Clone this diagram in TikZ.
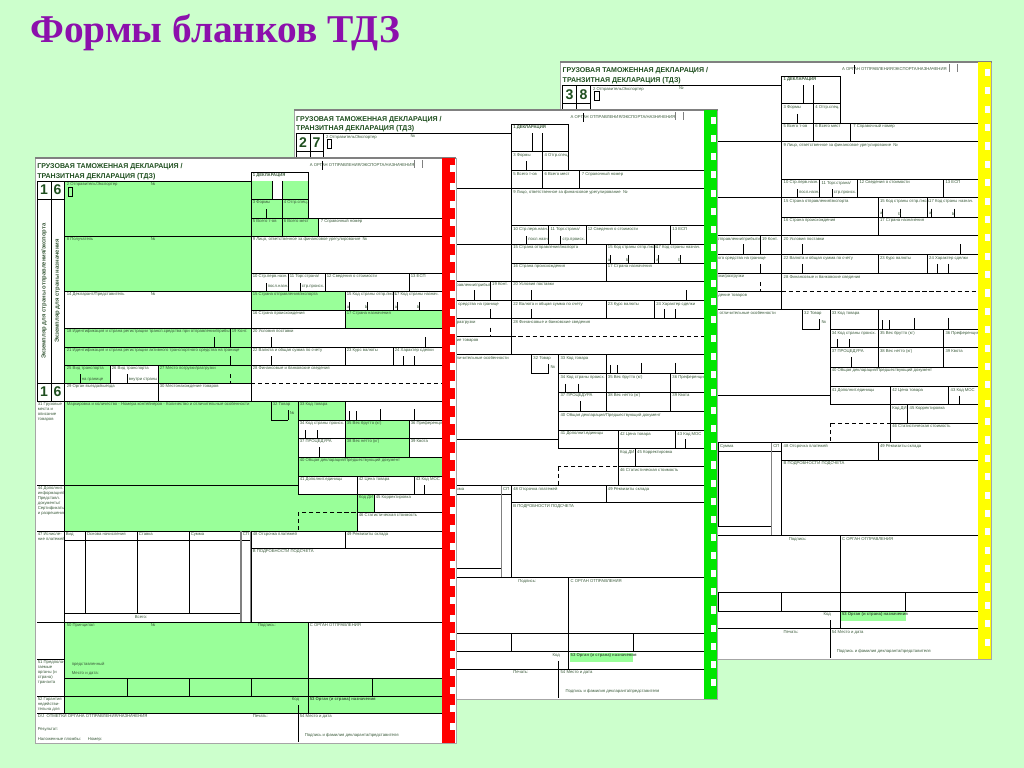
\documentclass[tikz,border=0pt]{standalone}
\usepackage{fontspec}
\setmainfont{Liberation Serif}
\setsansfont{Liberation Sans}
\usetikzlibrary{calc}
\definecolor{TdzBack}{HTML}{CCFFCC}
\definecolor{TdzGreen}{HTML}{99FF99}
\definecolor{TdzTitle}{HTML}{8C10AC}
\definecolor{TdzInk}{HTML}{1F4F1F}
\definecolor{TdzLabel}{HTML}{3A5A3A}
\definecolor{TdzRed}{HTML}{FF0000}
\definecolor{TdzLime}{HTML}{00E600}
\definecolor{TdzYellow}{HTML}{FFFF00}

\tikzset{
  lbl/.style={font=\sffamily\fontsize{3}{3.5}\selectfont, text=TdzLabel, anchor=north west, inner sep=0.4pt, align=left},
  lblb/.style={lbl, font=\sffamily\bfseries\fontsize{3}{3.5}\selectfont},
  hdr/.style={font=\sffamily\bfseries\fontsize{5}{6}\selectfont, text=TdzInk, anchor=base west, inner sep=0pt},
  num/.style={font=\sffamily\bfseries\fontsize{10}{12}\selectfont, text=TdzInk, inner sep=0pt},
  vert/.style={font=\sffamily\bfseries\fontsize{4.2}{5}\selectfont, text=TdzLabel, rotate=90, inner sep=0pt},
  titl/.style={font=\bfseries\fontsize{28}{32}\selectfont, text=TdzTitle, inner sep=0pt},
  box/.style={draw=black, line width=0.55pt},
  sheet/.style={draw=gray!70, fill=white, line width=0.6pt},
}

% один бланк ТДЗ: #1 префикс имен, #2 #3 номер листа, #4 заливка, #5 полоса
\newcommand{\tdzform}[5]{%
  % лист
  \draw[sheet] (35,158) rectangle (456,743);
  \draw[gray, line width=1.2pt] (35,158) -- (456,158);
  % шапка
  \node[hdr] (#1h1) at (37,169) {ГРУЗОВАЯ ТАМОЖЕННАЯ ДЕКЛАРАЦИЯ /};
  \node[hdr] (#1h2) at (37,178.5) {ТРАНЗИТНАЯ ДЕКЛАРАЦИЯ (ТДЗ)};
  \draw[box] (37,181) -- (251,181);
  % левая колонка
  \draw[box] (37,181) rectangle (51,199) (51,181) rectangle (64,199);
  \node[num] (#1n1) at (44,190) {#2};
  \node[num] (#1n2) at (57.5,190) {#3};
  \draw[box] (37,199) rectangle (51,383) (51,199) rectangle (64,383);
  \node[vert] (#1v1) at (44,291) {Экземпляр для страны отправления/экспорта};
  \node[vert] (#1v2) at (57.5,291) {Экземпляр для страны назначения};
  \draw[box] (37,383) rectangle (51,401) (51,383) rectangle (64,401);
  \node[num] (#1n3) at (44,392) {#2};
  \node[num] (#1n4) at (57.5,392) {#3};
  % графа 1 и A
  \fill[#4] (251,181) rectangle (272,199) (282,181) rectangle (308,199);
  \draw[box] (251,172) rectangle (308,199);
  \draw[box] (272,181) -- (272,199) (282,181) -- (282,199);
  \node[lblb] (#1b1) at (252,173) {1 ДЕКЛАРАЦИЯ};
  \draw[box] (308,172) -- (308,218);
  \node[lbl] (#1bA) at (309,163) {A ОРГАН ОТПРАВЛЕНИЯ/ЭКСПОРТА/НАЗНАЧЕНИЯ};
  \draw[box] (322,161) -- (322,170);
  \draw[gray, line width=0.5pt] (414,160) -- (414,168) (422,160) -- (422,168);
  % графы 2-7
  \draw[box, fill=#4] (64,181) rectangle (251,236);
  \node[lbl] (#1b2) at (66,182) {2 Отправитель/Экспортер};
  \node[lbl] (#1b2n) at (150,182) {№};
  \draw[box, line width=0.4pt] (68,187) rectangle (72.5,196);
  \draw[box, fill=#4] (251,199) rectangle (282,218);
  \node[lbl] (#1b3) at (252,200) {3 Формы};
  \draw[box] (266,209) -- (266,218);
  \draw[box, fill=#4] (282,199) rectangle (308,218);
  \node[lbl] (#1b4) at (283,200) {4 Отгр.спец.};
  \draw[box, fill=#4] (251,218) rectangle (282,236);
  \node[lbl] (#1b5) at (252,219) {5 Всего т-ов};
  \draw[box, fill=#4] (282,218) rectangle (318,236);
  \node[lbl] (#1b6) at (283,219) {6 Всего мест};
  \draw[box] (318,218) rectangle (443,236);
  \node[lbl] (#1b7) at (320,219) {7 Справочный номер};
  % графы 8-13
  \draw[box, fill=#4] (64,236) rectangle (251,291);
  \node[lbl] (#1b8) at (66,237) {8 Получатель};
  \node[lbl] (#1b8n) at (150,237) {№};
  \draw[box] (251,236) rectangle (443,273);
  \node[lbl] (#1b9) at (252,237) {9 Лицо, ответственное за финансовое урегулирование \ №};
  \draw[box] (251,273) rectangle (288,291);
  \node[lbl] (#1b10) at (252,274) {10 Стр.перв.назн.};
  \node[lbl] (#1b10a) at (267,284) {посл.назн.};
  \draw[box] (266,283) -- (266,291);
  \draw[box] (288,273) rectangle (325,291);
  \node[lbl] (#1b11) at (289,274) {11 Торг.страна/};
  \node[lbl] (#1b11a) at (301,284) {стр.происх.};
  \draw[box] (300,283) -- (300,291);
  \draw[box] (325,273) rectangle (409,291);
  \node[lbl] (#1b12) at (326,274) {12 Сведения о стоимости};
  \draw[box] (409,273) rectangle (443,291);
  \node[lbl] (#1b13) at (410,274) {13 ЕСП};
  % графы 14-17
  \draw[box] (64,291) rectangle (251,328);
  \node[lbl] (#1b14) at (66,292) {14 Декларант/Представитель};
  \node[lbl] (#1b14n) at (150,292) {№};
  \draw[box, fill=#4] (251,291) rectangle (345,310);
  \node[lbl] (#1b15) at (252,292) {15 Страна отправления/экспорта};
  \draw[box] (345,291) rectangle (393,310);
  \node[lbl] (#1b15a) at (346,292) {15 Код страны отпр./эксп.};
  \draw[box] (349,302) -- (349,310) (367,302) -- (367,310);
  \node[lbl] (#1b15x) at (346,305) {a};
  \node[lbl] (#1b15y) at (364,305) {b};
  \draw[box] (393,291) rectangle (443,310);
  \node[lbl] (#1b17a) at (394,292) {17 Код страны назнач.};
  \draw[box] (397,302) -- (397,310) (419,302) -- (419,310);
  \node[lbl] (#1b17x) at (394,305) {a};
  \node[lbl] (#1b17y) at (416,305) {b};
  \draw[box] (251,310) rectangle (345,328);
  \node[lbl] (#1b16) at (252,311) {16 Страна происхождения};
  \draw[box, fill=#4] (345,310) rectangle (443,328);
  \node[lbl] (#1b17) at (346,311) {17 Страна назначения};
  % графы 18-24
  \draw[box, fill=#4] (64,328) rectangle (230,347);
  \node[lbl] (#1b18) at (66,329) {18 Идентификация и страна регистрации трансп.средства при отправлении/прибытии};
  \draw[box] (214,337) -- (214,347);
  \draw[box, fill=#4] (230,328) rectangle (251,347);
  \node[lbl] (#1b19) at (231,329) {19 Конт.};
  \draw[box] (251,328) rectangle (443,347);
  \node[lbl] (#1b20) at (252,329) {20 Условия поставки};
  \draw[box] (271,337) -- (271,347) (425,337) -- (425,347);
  \draw[box, fill=#4] (64,347) rectangle (251,365);
  \node[lbl] (#1b21) at (66,348) {21 Идентификация и страна регистрации активного транспортного средства на границе};
  \draw[box] (230,356) -- (230,365);
  \draw[box] (251,347) rectangle (345,365);
  \node[lbl] (#1b22) at (252,348) {22 Валюта и общая сумма по счету};
  \draw[box] (271,356) -- (271,365);
  \draw[box] (345,347) rectangle (393,365);
  \node[lbl] (#1b23) at (346,348) {23 Курс валюты};
  \draw[box] (393,347) rectangle (443,365);
  \node[lbl] (#1b24) at (394,348) {24 Характер сделки};
  \draw[box] (403,356) -- (403,365) (414,356) -- (414,365);
  % графы 25-30
  \draw[box, fill=#4] (64,365) rectangle (110,383);
  \node[lbl] (#1b25) at (66,366) {25 Вид транспорта};
  \node[lbl] (#1b25a) at (81,377) {на границе};
  \draw[box] (80,374) -- (80,383);
  \draw[box] (110,365) rectangle (158,383);
  \node[lbl] (#1b26) at (111,366) {26 Вид транспорта};
  \node[lbl] (#1b26a) at (128,377) {внутри страны};
  \draw[box] (127,374) -- (127,383);
  \draw[box, fill=#4] (158,365) rectangle (251,383);
  \node[lbl] (#1b27) at (159,366) {27 Место погрузки/разгрузки};
  \draw[box, densely dashed] (230,374) -- (230,383);
  \draw[box] (251,365) rectangle (443,401);
  \node[lbl] (#1b28) at (252,366) {28 Финансовые и банковские сведения};
  \draw[box, densely dashed] (251,383) -- (443,383);
  \draw[box] (64,383) rectangle (158,401);
  \node[lbl] (#1b29) at (66,384) {29 Орган въезда/выезда};
  \draw[box] (158,383) rectangle (251,401);
  \node[lbl] (#1b30) at (159,384) {30 Местонахождение товаров};
  % левая колонка ниже
  \draw[box] (64,401) -- (64,713);
  \draw[box] (37,485) -- (64,485) (37,531) -- (64,531) (37,622) -- (64,622)
    (37,659) -- (64,659) (37,696) -- (64,696);
  \node[lbl] (#1b31) at (37,402) {31 Грузовые\\места и\\описание\\товаров};
  \node[lbl] (#1b44) at (37,486) {44 Дополнит.\\информация/\\Представл.\\документы/\\Сертификаты\\и разрешения};
  \node[lbl] (#1b47) at (37,532) {47 Исчисле-\\ние платежей};
  \node[lbl] (#1b51) at (37,660) {51 Предпола-\\гаемые\\органы (и\\страна)\\транзита};
  \node[lbl] (#1b52) at (37,697) {52 Гарантия\\недействи-\\тельна для};
  % графа 31 и 32-43
  \draw[box, fill=#4] (64,401) rectangle (298,485);
  \node[lbl] (#1b31t) at (66,402) {Маркировка и количество - Номера контейнеров - Количество и отличительные особенности};
  \draw[box] (271,401) -- (271,420) -- (288,420) (288,410) -- (288,420);
  \node[lbl] (#1b32) at (272,402) {32 Товар};
  \node[lbl] (#1b32n) at (289,411) {№};
  \draw[box, fill=#4] (298,401) rectangle (345,420);
  \node[lbl] (#1b33) at (299,402) {33 Код товара};
  \draw[box] (345,401) rectangle (443,420);
  \draw[box] (349,411) -- (349,420) (356,411) -- (356,420) (380,409) -- (380,420) (414,409) -- (414,420);
  \draw[box] (298,420) rectangle (345,438);
  \node[lbl] (#1b34) at (299,421) {34 Код страны происх.};
  \draw[box] (305,430) -- (305,438) (317,430) -- (317,438);
  \draw[box, fill=#4] (345,420) rectangle (409,438);
  \node[lbl] (#1b35) at (346,421) {35 Вес брутто (кг)};
  \draw[box] (409,420) rectangle (443,438);
  \node[lbl] (#1b36) at (410,421) {36 Преференция};
  \draw[box] (298,438) rectangle (345,457);
  \node[lbl] (#1b37) at (299,439) {37 ПРОЦЕДУРА};
  \draw[box] (319,447) -- (319,457);
  \draw[box, fill=#4] (345,438) rectangle (409,457);
  \node[lbl] (#1b38) at (346,439) {38 Вес нетто (кг)};
  \draw[box] (409,438) rectangle (443,457);
  \node[lbl] (#1b39) at (410,439) {39 Квота};
  \draw[box, fill=#4] (298,457) rectangle (443,476);
  \node[lbl] (#1b40) at (299,458) {40 Общая декларация/Предшествующий документ};
  \draw[box] (298,476) rectangle (357,494);
  \node[lbl] (#1b41) at (299,477) {41 Дополнит.единицы};
  \draw[box] (357,476) rectangle (414,494);
  \node[lbl] (#1b42) at (358,477) {42 Цена товара};
  \draw[box] (414,476) rectangle (443,494);
  \node[lbl] (#1b43) at (415,477) {43 Код МОС};
  \draw[box] (424,485) -- (424,494);
  % графы 44-46
  \draw[box, fill=#4] (64,485) -- (298,485) -- (298,494) -- (374,494) -- (374,512)
    -- (357,512) -- (357,531) -- (64,531) -- cycle;
  \draw[box] (357,494) -- (357,512);
  \node[lbl] (#1bKD) at (358,495) {Код ДИ};
  \draw[box] (374,494) rectangle (443,512);
  \node[lbl] (#1b45) at (375,495) {45 Корректировка};
  \draw[box] (357,512) rectangle (443,531);
  \node[lbl] (#1b46) at (358,513) {46 Статистическая стоимость};
  \draw[box, densely dashed] (298,512) rectangle (357,531);
  % графа 47 и 48, 49, B
  \draw[box] (64,531) rectangle (251,622);
  \draw[box] (64,540) -- (251,540) (64,613) -- (241,613);
  \draw[box] (85,531) -- (85,613) (137,531) -- (137,613) (189,531) -- (189,613);
  \draw[gray, line width=1pt] (241,531) -- (241,622) (251,531) -- (251,622);
  \node[lbl] (#1c1) at (65,532) {Вид};
  \node[lbl] (#1c2) at (86,532) {Основа начисления};
  \node[lbl] (#1c3) at (138,532) {Ставка};
  \node[lbl] (#1c4) at (190,532) {Сумма};
  \node[lbl] (#1c5) at (242,532) {СП};
  \node[lbl, anchor=center] (#1c6) at (141,617.5) {Всего:};
  \draw[box] (251,531) rectangle (345,548);
  \node[lbl] (#1b48) at (252,532) {48 Отсрочка платежей};
  \draw[box] (345,531) rectangle (443,548);
  \node[lbl] (#1b49) at (346,532) {49 Реквизиты склада};
  \draw[box] (251,548) rectangle (443,622);
  \node[lbl] (#1bB) at (252,549) {B ПОДРОБНОСТИ ПОДСЧЕТА};
  % графы 50, C
  \draw[box] (37,622) -- (443,622);
  \draw[box, fill=#4] (64,622) rectangle (308,678);
  \node[lbl] (#1b50) at (66,623) {50 Принципал};
  \node[lbl] (#1b50n) at (150,623) {№};
  \node[lbl] (#1b50p) at (257,623) {Подпись:};
  \node[lbl] (#1b50a) at (71,662) {представленный};
  \node[lbl] (#1b50b) at (71,671) {Место и дата:};
  \draw[box, densely dashed] (308,622) rectangle (443,678);
  \node[lbl] (#1bC) at (309,623) {C ОРГАН ОТПРАВЛЕНИЯ};
  % графы 51-53
  \draw[box, fill=#4] (64,678) rectangle (443,696);
  \draw[box] (127,678) -- (127,696) (189,678) -- (189,696) (251,678) -- (251,696)
    (308,678) -- (308,696) (372,678) -- (372,696);
  \draw[box, fill=#4] (64,696) rectangle (443,713);
  \fill[TdzGreen] (309,697) rectangle (372,706);
  \draw[box] (308,696) -- (308,713);
  \node[lbl] (#1bKod) at (291,697) {Код};
  \node[lblb] (#1b53) at (309,697) {53 Орган (и страна) назначения};
  % графа D и 54
  \draw[box] (37,713) -- (443,713);
  \draw[box] (298,705) -- (298,742);
  \node[lbl] (#1bD) at (37,714) {D/J \ ОТМЕТКИ ОРГАНА ОТПРАВЛЕНИЯ/НАЗНАЧЕНИЯ};
  \node[lbl] (#1bP) at (252,714) {Печать:};
  \node[lbl] (#1b54) at (299,714) {54 Место и дата};
  \node[lbl] (#1bR) at (37,727) {Результат:};
  \node[lbl] (#1bS) at (37,737) {Наложенные пломбы: \quad\ Номер:};
  \node[lbl] (#1bF) at (304,733) {Подпись и фамилия декларанта/представителя};
  % цветная полоса с окошками
  \fill[#5] (442,158) rectangle (455,743);
  \foreach \yy in {165,183,...,735} \fill[white] (449.5,\yy) rectangle (454.5,\yy+7);
}

\begin{document}
\begin{tikzpicture}[x=0.025cm, y=-0.025cm]
  % фон слайда
  \fill[TdzBack] (0,0) rectangle (1024,768);
  \useasboundingbox (0,0) rectangle (1024,768);
  % заголовок
  \node[titl, anchor=base west] (title) at (30,43) {Формы бланков ТДЗ};
  % лист 3/8 (задний)
  \begin{scope}[shift={(524.5,-99.6)}, xscale=1.025, yscale=1.021]
    \tdzform{c}{3}{8}{white}{TdzYellow}
  \end{scope}
  % лист 2/7
  \begin{scope}[shift={(258.7,-49.1)}, scale=1.007]
    \tdzform{b}{2}{7}{white}{TdzLime}
  \end{scope}
  % лист 1/6 (передний)
  \tdzform{a}{1}{6}{TdzGreen}{TdzRed}
\end{tikzpicture}
\end{document}
